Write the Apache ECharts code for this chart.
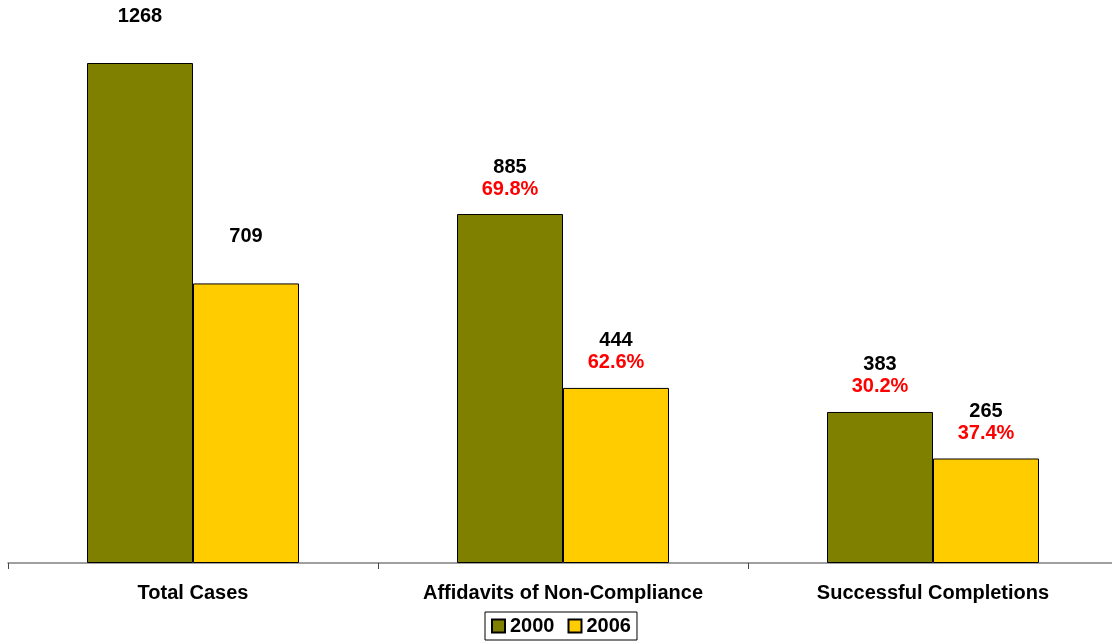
<!DOCTYPE html>
<html>
<head>
<meta charset="utf-8">
<style>
  html, body { margin: 0; padding: 0; background: #fff; overflow: hidden; }
  #chart { width: 1118px; height: 641px; }
</style>
<script src="https://cdn.jsdelivr.net/npm/echarts@6/dist/echarts.min.js"></script>
</head>
<body>
<div id="chart"></div>
<script>
  var categories = ['Total Cases', 'Affidavits of Non-Compliance', 'Successful Completions']
  var values2000 = [1268, 885, 383]
  var values2006 = [709, 444, 265]
  var pct2000 = ['', '69.8%', '30.2%']
  var pct2006 = ['', '62.6%', '37.4%']

  function makeLabel (pcts) {
    return {
      show: true,
      position: 'top',
      distance: 14,
      formatter: function (p) {
        var pc = pcts[p.dataIndex]
        return '{a|' + p.value + '}\n{b|' + (pc || ' ') + '}'
      },
      rich: {
        a: { fontFamily: 'Liberation Sans', fontWeight: 'bold', fontSize: 20, color: '#000', lineHeight: 22 },
        b: { fontFamily: 'Liberation Sans', fontWeight: 'bold', fontSize: 20, color: '#ff0000', lineHeight: 22 }
      }
    }
  }

  // chart box is a bit wider than the window so the axis runs off the right edge
  var chart = echarts.init(document.getElementById('chart'))
  chart.setOption({
    animation: false,
    grid: { left: 8, right: 0, top: 63, bottom: 78 },
    legend: {
      bottom: 1,
      left: 485,
      data: ['2000', '2006'],
      icon: 'rect',
      itemWidth: 13,
      itemHeight: 13,
      itemGap: 13,
      padding: [4, 6],
      borderColor: '#000',
      borderWidth: 1,
      textStyle: { fontFamily: 'Liberation Sans', fontWeight: 'bold', fontSize: 20, color: '#000' }
    },
    xAxis: {
      type: 'category',
      data: categories,
      axisLine: { lineStyle: { color: '#808080', width: 1.5 } },
      axisTick: { show: true, length: 6, lineStyle: { color: '#444' } },
      axisLabel: { margin: 20, fontFamily: 'Liberation Sans', fontWeight: 'bold', fontSize: 20, color: '#000' }
    },
    yAxis: {
      type: 'value',
      min: 0,
      max: 1268,
      show: false
    },
    series: [
      {
        name: '2000',
        type: 'bar',
        barWidth: 106,
        barGap: 0,
        data: values2000,
        itemStyle: { color: '#808000', borderColor: '#000', borderWidth: 1 },
        label: makeLabel(pct2000)
      },
      {
        name: '2006',
        type: 'bar',
        barWidth: 106,
        data: values2006,
        itemStyle: { color: '#ffcc00', borderColor: '#000', borderWidth: 1 },
        label: makeLabel(pct2006)
      }
    ]
  })
</script>
</body>
</html>
